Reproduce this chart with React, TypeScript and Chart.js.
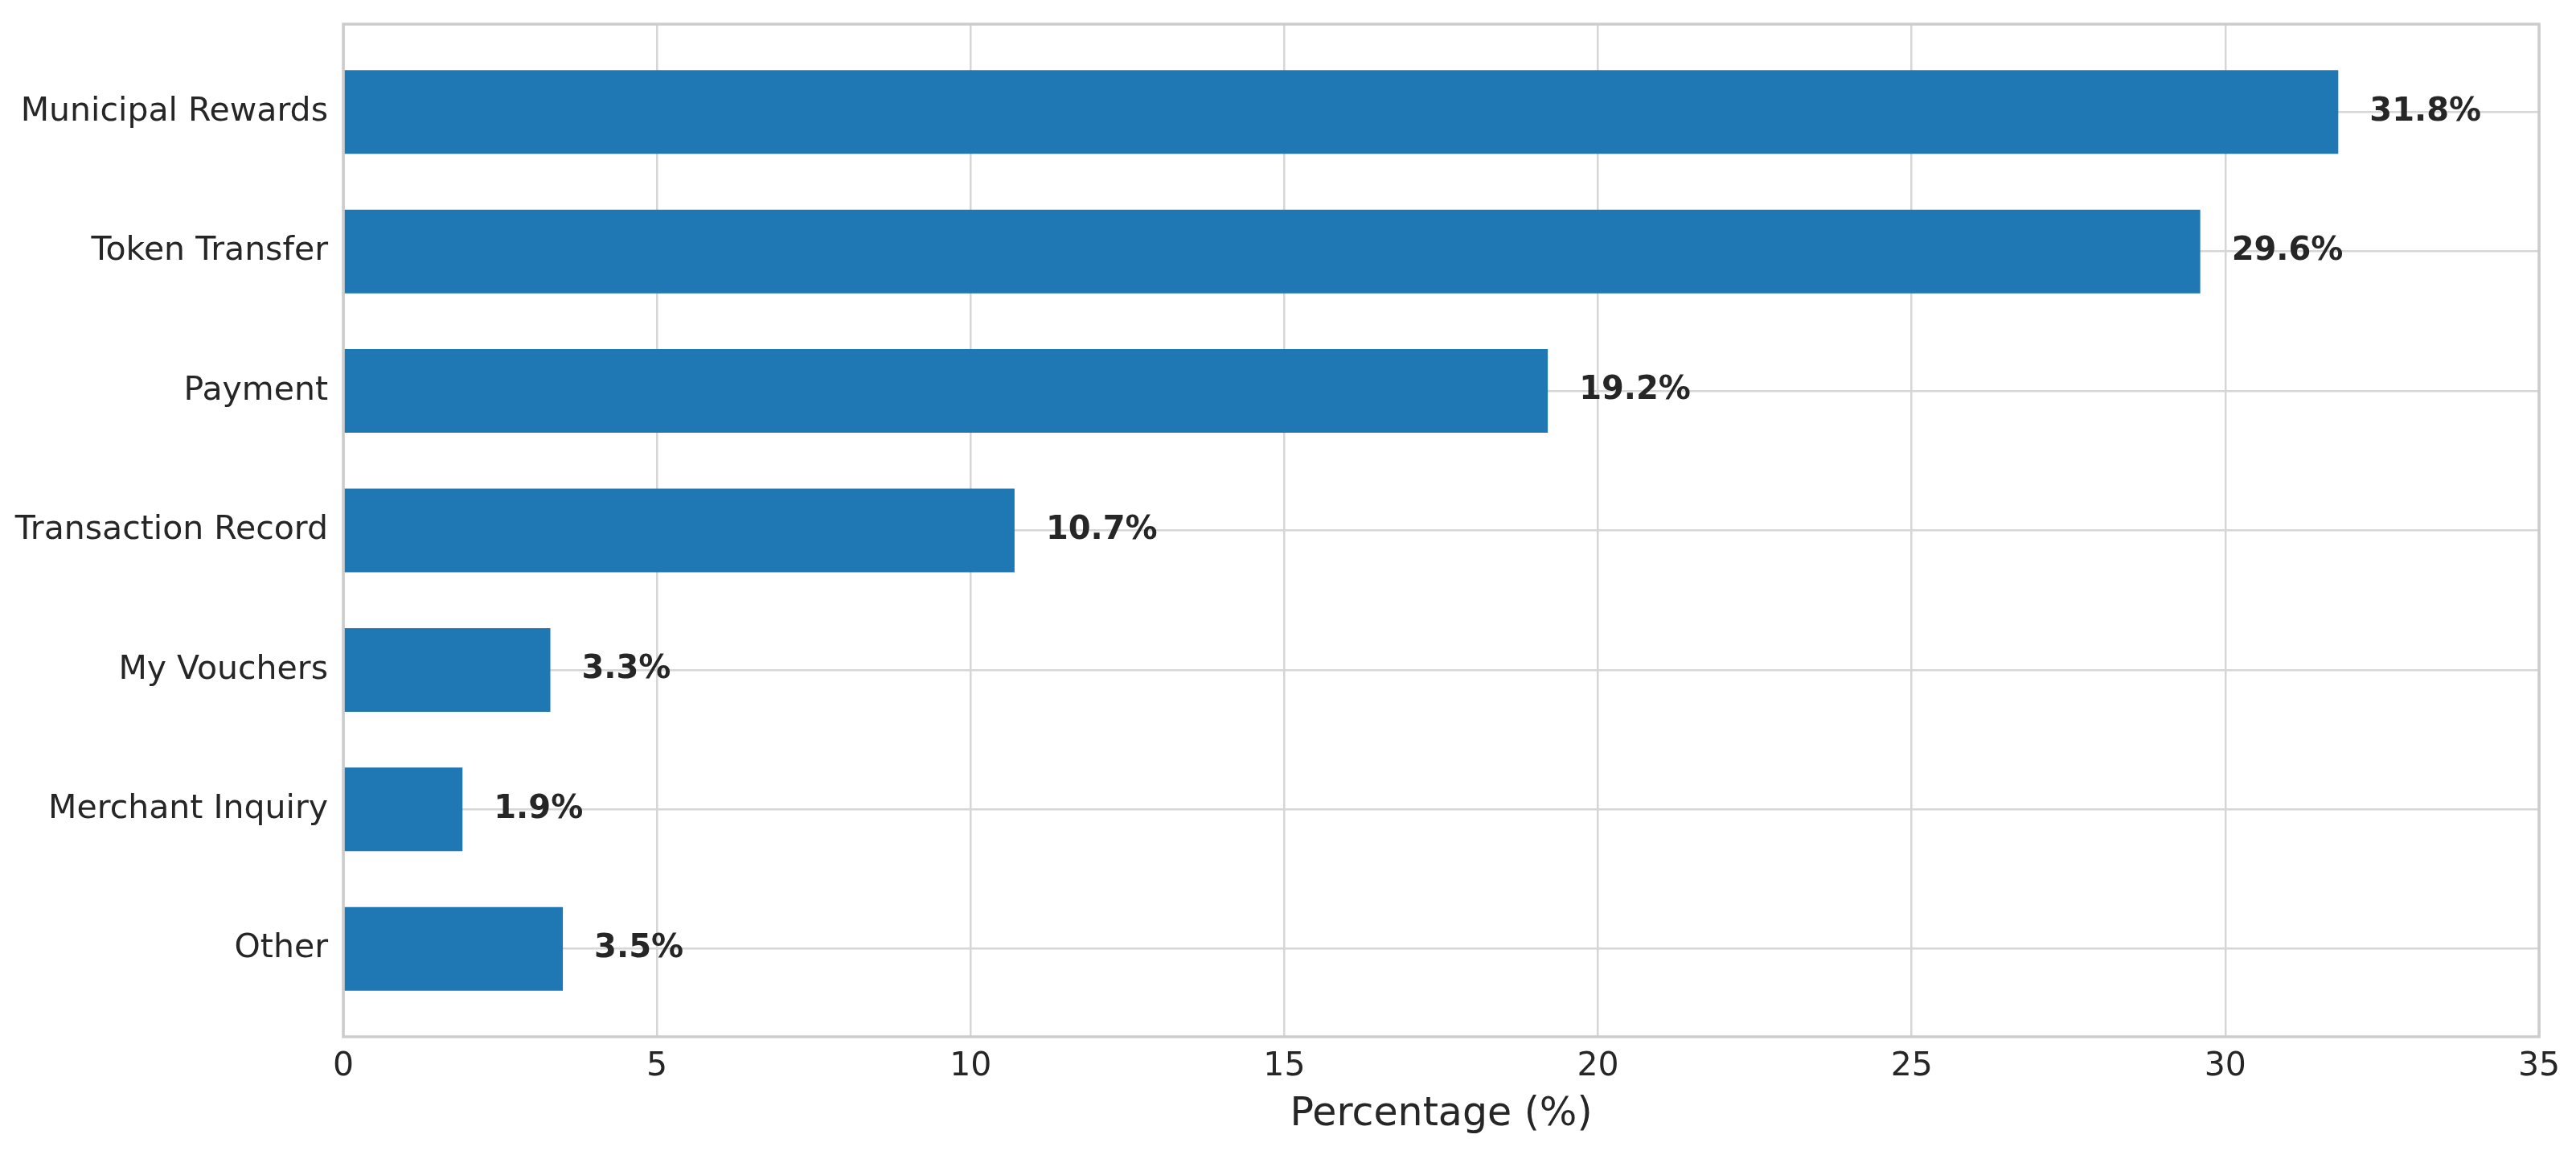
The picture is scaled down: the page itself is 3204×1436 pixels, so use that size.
import React, { useEffect, useRef } from "react";
import { Chart, registerables } from "chart.js";

Chart.register(...registerables);

const categories = [
  "Municipal Rewards",
  "Token Transfer",
  "Payment",
  "Transaction Record",
  "My Vouchers",
  "Merchant Inquiry",
  "Other",
];
const percentages = [31.8, 29.6, 19.2, 10.7, 3.3, 1.9, 3.5];
const xTicks = [0, 5, 10, 15, 20, 25, 30, 35];
const xTitle = "Percentage (%)";

const FONT = "'DejaVu Sans', sans-serif";
const TEXT = "#262626";
const GRID = "#d6d6d6";
const SPINE = "#cccccc";

const borderPlugin = {
  id: "frameBox",
  afterDatasetsDraw(chart: any) {
    const { ctx, chartArea } = chart;
    ctx.save();
    ctx.strokeStyle = SPINE;
    ctx.lineWidth = 3.5;
    ctx.strokeRect(
      chartArea.left,
      chartArea.top,
      chartArea.right - chartArea.left,
      chartArea.bottom - chartArea.top
    );
    ctx.restore();
  },
};

const valueLabelPlugin = {
  id: "valueLabels",
  afterDatasetsDraw(chart: any) {
    const { ctx } = chart;
    const xScale = chart.scales.x;
    const meta = chart.getDatasetMeta(0);
    ctx.save();
    ctx.font = `bold 40px ${FONT}`;
    ctx.fillStyle = TEXT;
    ctx.textAlign = "left";
    ctx.textBaseline = "middle";
    meta.data.forEach((bar: any, i: number) => {
      const v = percentages[i];
      ctx.fillText(`${v.toFixed(1)}%`, xScale.getPixelForValue(v + 0.5), bar.y);
    });
    ctx.restore();
  },
};

export default function App() {
  const canvasRef = useRef<HTMLCanvasElement | null>(null);

  useEffect(() => {
    if (!canvasRef.current) return;
    const chart = new Chart(canvasRef.current, {
      type: "bar",
      data: {
        datasets: [
          {
            data: percentages.map((v, i) => ({ x: v, y: i })),
            backgroundColor: "#1f77b4",
            borderWidth: 0,
            barPercentage: 0.6,
            categoryPercentage: 1,
          },
        ],
      },
      options: {
        indexAxis: "y",
        animation: false,
        responsive: false,
        devicePixelRatio: 1,
        layout: { padding: { top: 30, right: 46, left: 0, bottom: 0 } },
        plugins: {
          legend: { display: false },
          tooltip: { enabled: false },
        },
        scales: {
          x: {
            type: "linear",
            min: 0,
            max: 35,
            offset: false,
            afterBuildTicks: (scale: any) => {
              scale.ticks = xTicks.map((v) => ({ value: v }));
            },
            afterFit: (scale: any) => {
              scale.height = 147;
            },
            grid: { color: GRID, lineWidth: 2.5, drawTicks: false, offset: false },
            border: { display: false },
            ticks: {
              color: TEXT,
              font: { family: FONT, size: 41 },
              padding: 13,
              maxRotation: 0,
            },
            title: {
              display: true,
              text: xTitle,
              color: TEXT,
              font: { family: FONT, size: 49 },
              padding: { top: 0, bottom: 20 },
            },
          },
          y: {
            type: "linear",
            reverse: true,
            min: -0.63,
            max: 6.63,
            offset: false,
            afterBuildTicks: (scale: any) => {
              scale.ticks = categories.map((_, i) => ({ value: i }));
            },
            afterFit: (scale: any) => {
              scale.width = 427;
              scale.paddingTop = 0;
              scale.paddingBottom = 0;
            },
            grid: { color: GRID, lineWidth: 2.5, drawTicks: false, offset: false },
            border: { display: false },
            ticks: {
              color: TEXT,
              font: { family: FONT, size: 41 },
              padding: 19,
              callback: (v: any) => categories[Math.round(Number(v))] ?? "",
            },
          },
        },
      },
      plugins: [valueLabelPlugin, borderPlugin],
    } as any);
    return () => chart.destroy();
  }, []);

  return (
    <div style={{ position: "fixed", left: 0, top: 0, width: 3204, height: 1436, background: "#ffffff" }}>
      <canvas ref={canvasRef} width={3204} height={1436} style={{ width: 3204, height: 1436, display: "block" }} />
    </div>
  );
}
